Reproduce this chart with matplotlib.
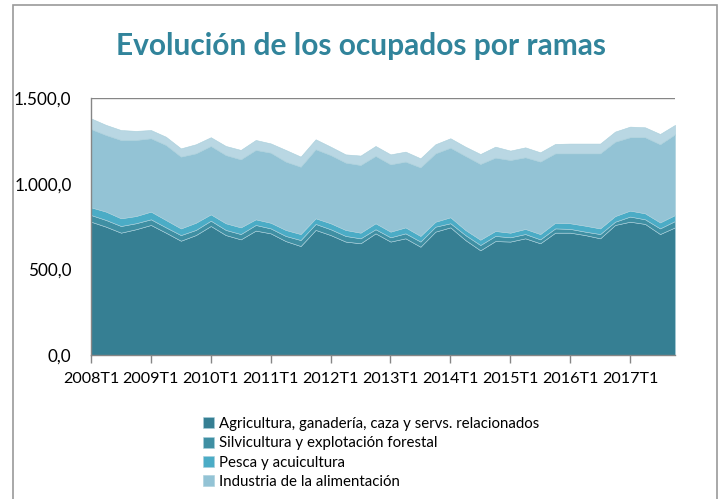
import matplotlib
matplotlib.use("Agg")
import matplotlib.pyplot as plt
from matplotlib.patches import Rectangle
from matplotlib.ticker import FuncFormatter
import numpy as np

quarters = [f"{y}T{q}" for y in range(2008, 2018) for q in range(1, 5)]
tick_labels = [f"{y}T1" for y in range(2008, 2018)]

agricultura = [778, 749, 714, 734, 759, 714, 667, 700, 753, 700, 675, 726, 710, 665, 636, 730,
               700, 662, 652, 710, 662, 681, 632, 720, 745, 671, 611, 665, 662, 681, 652, 714,
               714, 700, 681, 759, 778, 765, 706, 745]
silvicultura = [39, 39, 39, 35, 33, 31, 33, 30, 31, 30, 31, 33, 29, 30, 35, 35,
                34, 33, 29, 24, 25, 29, 30, 29, 24, 29, 31, 30, 25, 25, 23, 25,
                22, 20, 25, 19, 30, 27, 33, 37]
pesca = [45, 49, 45, 42, 45, 43, 39, 42, 37, 39, 39, 33, 33, 35, 35, 33,
         35, 35, 33, 35, 33, 35, 33, 29, 35, 30, 31, 29, 27, 30, 31, 33,
         33, 35, 33, 33, 35, 35, 35, 35]
alimentacion = [457, 447, 457, 444, 428, 438, 419, 405, 399, 398, 397, 405, 409, 399, 393, 403,
                398, 393, 395, 393, 393, 384, 400, 399, 406, 432, 442, 428, 424, 418, 423, 405,
                408, 422, 438, 434, 428, 444, 456, 471]
bebidas = [62, 59, 58, 53, 48, 48, 48, 53, 51, 53, 55, 58, 54, 68, 59, 58,
           49, 48, 55, 58, 58, 58, 53, 53, 55, 54, 58, 64, 55, 58, 54, 55,
           57, 57, 57, 59, 62, 58, 60, 55]

labels = ["Agricultura, ganadería, caza y servs. relacionados",
          "Silvicultura y explotación forestal",
          "Pesca y acuicultura",
          "Industria de la alimentación",
          "_Industria de las bebidas"]
colors = ["#367f93", "#3f8fa3", "#4bacc6", "#93c3d5", "#b9d7e3"]

plt.rcParams['font.family'] = ['Lato', 'DejaVu Sans']

fig = plt.figure(figsize=(7.22, 4.99), dpi=100)
# outer chart border
fig.patches.append(Rectangle((13 / 722, -0.1), (717 - 13) / 722, 1 - 5 / 499 + 0.1,
                             transform=fig.transFigure, fill=False, edgecolor="#9a9a9a",
                             linewidth=1.2))

ax = fig.add_axes([91 / 722, 1 - 355 / 499, (675 - 91) / 722, (355 - 98) / 499])
x = np.arange(len(quarters))
polys = ax.stackplot(x, agricultura, silvicultura, pesca, alimentacion, bebidas,
                     colors=colors, labels=labels, zorder=2,
                     edgecolor="#a9cfdb", linewidth=0.4)

ax.set_xlim(0, len(quarters) - 1)
ax.set_ylim(0, 1500)
ax.set_yticks([0, 500, 1000, 1500])

def fmt(v, pos):
    s = f"{v:,.1f}"
    return s.replace(",", "X").replace(".", ",").replace("X", ".")
ax.yaxis.set_major_formatter(FuncFormatter(fmt))
ax.set_xticks(x[::4])
ax.set_xticklabels(tick_labels)

ax.grid(axis="y", color="#868686", linewidth=1.0, zorder=1)
ax.set_axisbelow(True)
for s in ["top", "right"]:
    ax.spines[s].set_visible(False)
for s in ["left", "bottom"]:
    ax.spines[s].set_color("#868686")
    ax.spines[s].set_linewidth(1.0)
    ax.spines[s].set_zorder(3)
ax.tick_params(axis="y", length=0, pad=14, labelsize=12.3, labelcolor="#000000")
ax.tick_params(axis="x", length=6, width=1, color="#868686", pad=6, labelsize=11.6)

fig.text(0.5, 1 - 46 / 499, "Evolución de los ocupados por ramas", ha="center", va="center",
         fontsize=21.5, fontweight="bold", color="#31849b")

leg = fig.legend(handles=polys[:4], labels=labels[:4], loc="upper left",
                 bbox_to_anchor=(203 / 722, 1 - 417 / 499), frameon=False,
                 fontsize=10.8, handlelength=0.75, handleheight=0.75, handletextpad=0.35,
                 labelspacing=0.36, borderpad=0, borderaxespad=0)

fig.savefig("out.png", dpi=100)
